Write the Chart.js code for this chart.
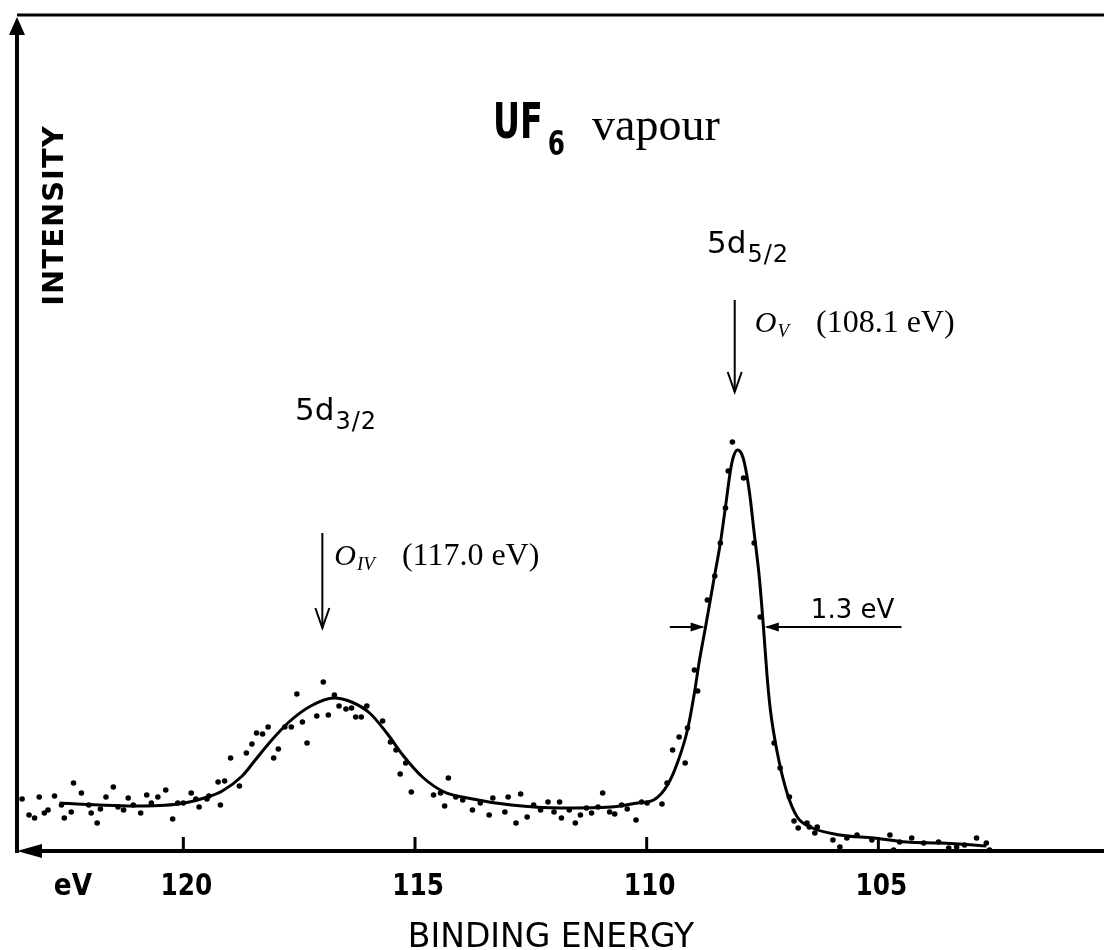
<!DOCTYPE html>
<html>
<head>
<meta charset="utf-8">
<title>UF6 vapour – U 5d photoelectron spectrum</title>
<script src="https://cdn.jsdelivr.net/npm/chart.js@4.4.1/dist/chart.umd.min.js"></script>
<style>
  html, body { margin: 0; padding: 0; background: #fff; }
  canvas { display: block; }
</style>
</head>
<body>
<canvas id="spectrum" width="1108" height="950"></canvas>
<script>
// ---- measured spectrum: binding energy (eV) and intensity (arbitrary counts) ----
const dataEnergy = [
  123.48, 123.33, 123.21, 123.11, 123.00, 122.92, 122.78, 122.63, 122.57, 122.42,
  122.37, 122.20, 122.04, 121.99, 121.86, 121.79, 121.67, 121.51, 121.41, 121.29,
  121.19, 121.08, 120.92, 120.79, 120.69, 120.55, 120.38, 120.23, 120.12, 120.00,
  119.83, 119.73, 119.66, 119.49, 119.45, 119.25, 119.20, 119.11, 118.98, 118.79,
  118.64, 118.52, 118.42, 118.29, 118.17, 118.05, 117.95, 117.81, 117.67, 117.55,
  117.43, 117.33, 117.12, 116.98, 116.87, 116.74, 116.64, 116.49, 116.37, 116.28,
  116.16, 116.04, 115.70, 115.53, 115.41, 115.32, 115.20, 115.08, 114.60, 114.45,
  114.36, 114.28, 114.12, 113.97, 113.76, 113.59, 113.40, 113.32, 113.06, 112.99,
  112.82, 112.72, 112.58, 112.44, 112.29, 112.13, 112.00, 111.88, 111.84, 111.67,
  111.54, 111.43, 111.30, 111.19, 111.05, 110.95, 110.80, 110.69, 110.54, 110.42,
  110.23, 110.11, 109.99, 109.67, 109.56, 109.44, 109.30, 109.17, 109.12, 108.97,
  108.90, 108.69, 108.53, 108.41, 108.30, 108.24, 108.15, 107.91, 107.68, 107.55,
  107.25, 107.12, 106.92, 106.82, 106.73, 106.54, 106.49, 106.37, 106.32, 105.98,
  105.83, 105.68, 105.46, 105.14, 104.75, 104.67, 104.54, 104.28, 104.02, 103.70,
  103.48, 103.31, 103.14, 102.88, 102.67, 102.60
];
const dataIntensity = [
  53, 37, 34, 55, 39, 42, 56, 47, 34, 40,
  69, 59, 47, 39, 29, 43, 55, 65, 45, 42,
  54, 47, 39, 57, 49, 55, 62, 33, 49, 49,
  59, 53, 45, 53, 56, 70, 47, 71, 94, 66,
  99, 108, 119, 118, 125, 94, 103, 125, 125, 158,
  130, 109, 136, 170, 137, 157, 146, 143, 144, 135,
  135, 146, 131, 110, 102, 78, 89, 60, 57, 59,
  46, 74, 55, 52, 42, 49, 37, 54, 40, 55,
  29, 58, 35, 47, 42, 50, 40, 50, 34, 42,
  29, 37, 44, 39, 45, 59, 40, 38, 47, 43,
  32, 50, 49, 48, 69, 102, 115, 89, 124, 182,
  161, 252, 276, 309, 344, 381, 410, 374, 309, 235,
  109, 84, 55, 31, 24, 29, 25, 19, 25, 12,
  5, 14, 17, 12, 17, 2, 10, 14, 9, 10,
  4, 5, 7, 14, 9, 2
];

// ---- fitted envelope through the spectrum ----
const fitEnergy = [
  122.67, 121.81, 121.08, 120.11, 119.55, 119.16, 118.73, 118.43, 118.11, 117.72,
  117.25, 116.75, 116.37, 115.98, 115.61, 115.23, 114.84, 114.37, 113.87, 112.92,
  111.85, 110.77, 110.19, 109.85, 109.55, 109.33, 109.12, 108.97, 108.86, 108.73,
  108.54, 108.41, 108.30, 108.19, 108.13, 108.04, 107.96, 107.89, 107.78, 107.68,
  107.57, 107.48, 107.40, 107.33, 107.18, 106.97, 106.75, 106.47, 105.83, 105.10,
  104.39, 103.68, 102.95, 102.67
];
const fitIntensity = [
  49, 47, 46, 48, 54, 61, 76, 93, 111, 130,
  146, 154, 150, 139, 119, 95, 75, 60, 54, 47,
  44, 45, 49, 52, 67, 90, 122, 159, 192, 225,
  275, 309, 345, 382, 395, 402, 399, 389, 359, 319,
  275, 225, 175, 142, 99, 59, 35, 25, 17, 14,
  10, 9, 7, 6
];

// ---- axis ----
const tickValues = [120, 115, 110, 105];
const tickLabels = ['120', '115', '110', '105'];
const energyMin = 100.13;
const energyMax = 123.59;
const intensityMax = 837;

// ---- level assignments and edge energies ----
const levelMain = ['5d', '5d'];
const levelSub = ['5/2', '3/2'];
const edgeName = ['O', 'O'];
const edgeSub = ['V', 'IV'];
const edgeEnergy = [108.1, 117.0];

// ---- half-width marker on the 5d5/2 line ----
const fwhmCentre = 108.1;
const fwhmWidth = 1.3;
const fwhmLevel = 225;

const SANS = '"DejaVu Sans", "Liberation Sans", sans-serif';
const SERIF = '"Liberation Serif", "DejaVu Serif", serif';

function drawText(ctx, s, x, y, font, opt = {}) {
  ctx.save();
  ctx.font = font;
  ctx.letterSpacing = (opt.ls || 0) + 'px';
  ctx.textBaseline = 'alphabetic';
  ctx.textAlign = 'left';
  const sx = opt.sx || 1;
  const w = (ctx.measureText(s).width - (opt.ls || 0)) * sx;
  let x0 = x;
  if (opt.align === 'center') x0 = x - w / 2;
  else if (opt.align === 'right') x0 = x - w;
  ctx.translate(x0, y);
  ctx.scale(sx, 1);
  ctx.fillText(s, 0, 0);
  ctx.restore();
  return x0 + w;
}

function line(ctx, x1, y1, x2, y2) {
  ctx.beginPath(); ctx.moveTo(x1, y1); ctx.lineTo(x2, y2); ctx.stroke();
}
function tri(ctx, p) {
  ctx.beginPath(); ctx.moveTo(p[0], p[1]); ctx.lineTo(p[2], p[3]); ctx.lineTo(p[4], p[5]);
  ctx.closePath(); ctx.fill();
}

const decorations = {
  id: 'decorations',
  beforeDraw(chart) {
    const ctx = chart.ctx;
    ctx.save();
    ctx.fillStyle = '#fff';
    ctx.fillRect(0, 0, chart.width, chart.height);
    ctx.restore();
  },
  afterDraw(chart) {
    const ctx = chart.ctx;
    const xs = chart.scales.x, ys = chart.scales.y;
    const a = chart.chartArea;
    ctx.save();
    ctx.strokeStyle = '#000';
    ctx.fillStyle = '#000';
    ctx.lineCap = 'butt';

    // frame: top rule, intensity axis with arrow, energy axis with arrow
    const yAxis = a.bottom - 1;
    ctx.lineWidth = 3;
    line(ctx, a.left, a.top, a.right, a.top);
    ctx.lineWidth = 4;
    line(ctx, a.left, a.top + 16, a.left, yAxis + 2);
    tri(ctx, [a.left, a.top + 2, a.left - 8, a.top + 20, a.left + 8, a.top + 20]);
    line(ctx, a.left + 20, yAxis, a.right, yAxis);
    tri(ctx, [a.left, yAxis, a.left + 25, yAxis - 7, a.left + 25, yAxis + 7]);

    // tick marks pointing into the plot, with labels below
    ctx.lineWidth = 3;
    tickValues.forEach((v, i) => {
      const x = xs.getPixelForValue(v);
      line(ctx, x, yAxis, x, yAxis - 14);
      drawText(ctx, tickLabels[i], x + 3, 895, 'bold 31px ' + SANS, { align: 'center', sx: 0.8 });
    });
    drawText(ctx, 'eV', 73, 895, 'bold 31px ' + SANS, { align: 'center', sx: 0.85 });

    // axis titles
    drawText(ctx, 'BINDING ENERGY', 551, 947, '33px ' + SANS, { align: 'center' });
    ctx.save();
    ctx.translate(63, 216);
    ctx.rotate(-Math.PI / 2);
    drawText(ctx, 'INTENSITY', 0, 0, 'bold 29px ' + SANS, { align: 'center', ls: 1 });
    ctx.restore();

    // title
    let tx = drawText(ctx, 'UF', 493, 138, 'bold 49px ' + SANS, { sx: 0.68 });
    drawText(ctx, '6', tx + 5, 155, 'bold 33px ' + SANS, { sx: 0.75 });
    drawText(ctx, 'vapour', 592, 140, '46px ' + SERIF);

    // level labels
    const levelPos = [[707, 253], [295, 420]];
    levelMain.forEach((m, i) => {
      const [lx, ly] = levelPos[i];
      const e = drawText(ctx, m, lx, ly, '31px ' + SANS);
      drawText(ctx, levelSub[i], e + 1, ly + 9, '24px ' + SANS, { ls: 1 });
    });

    // edge arrows with their binding energies
    const arrowSpan = [[552, 460], [319, 224]];
    const labelGap = [20, 12];
    ctx.lineWidth = 2;
    edgeEnergy.forEach((en, i) => {
      const x = xs.getPixelForValue(en);
      const yTop = ys.getPixelForValue(arrowSpan[i][0]);
      const yTip = ys.getPixelForValue(arrowSpan[i][1]);
      line(ctx, x, yTop, x, yTip);
      ctx.beginPath();
      ctx.moveTo(x - 7, yTip - 20); ctx.lineTo(x, yTip); ctx.lineTo(x + 7, yTip - 20);
      ctx.stroke();
      const base = yTop + 32;
      let e = drawText(ctx, edgeName[i], x + labelGap[i], base, 'italic 30px ' + SERIF);
      e = drawText(ctx, edgeSub[i], e + 1, base + 5, 'italic 19px ' + SERIF);
      drawText(ctx, '(' + en.toFixed(1) + ' eV)', e + 27, base, '32px ' + SERIF);
    });

    // half-width marker
    const yL = ys.getPixelForValue(fwhmLevel);
    const xL = xs.getPixelForValue(fwhmCentre + fwhmWidth / 2);
    const xR = xs.getPixelForValue(fwhmCentre - fwhmWidth / 2);
    ctx.lineWidth = 2;
    line(ctx, xs.getPixelForValue(fwhmCentre + fwhmWidth / 2 + 0.75), yL, xL - 2, yL);
    line(ctx, xR + 2, yL, xs.getPixelForValue(fwhmCentre - fwhmWidth / 2 - 2.95), yL);
    tri(ctx, [xL, yL, xL - 14, yL - 4.5, xL - 14, yL + 4.5]);
    tri(ctx, [xR, yL, xR + 14, yL - 4.5, xR + 14, yL + 4.5]);
    drawText(ctx, fwhmWidth.toFixed(1) + ' eV', xR + 46, yL - 9, '26px ' + SANS);

    ctx.restore();
  }
};

new Chart(document.getElementById('spectrum'), {
  type: 'scatter',
  data: {
    datasets: [
      {
        label: 'fit',
        type: 'line',
        data: fitEnergy.map((e, i) => ({ x: e, y: fitIntensity[i] })),
        borderColor: '#000',
        borderWidth: 3,
        cubicInterpolationMode: 'monotone',
        pointRadius: 0,
        fill: false
      },
      {
        label: 'measured',
        data: dataEnergy.map((e, i) => ({ x: e, y: dataIntensity[i] })),
        pointRadius: 2.8,
        pointBorderWidth: 0,
        pointBackgroundColor: '#000',
        pointBorderColor: '#000',
        showLine: false
      }
    ]
  },
  options: {
    responsive: false,
    animation: false,
    devicePixelRatio: 1,
    layout: { padding: { left: 17, top: 15, right: 0, bottom: 98 } },
    plugins: { legend: { display: false }, tooltip: { enabled: false }, title: { display: false } },
    scales: {
      x: {
        type: 'linear', reverse: true, min: energyMin, max: energyMax, display: false,
        afterBuildTicks(scale) { scale.ticks = tickValues.map(v => ({ value: v })); }
      },
      y: { type: 'linear', min: 0, max: intensityMax, display: false }
    }
  },
  plugins: [decorations]
});
</script>
</body>
</html>
